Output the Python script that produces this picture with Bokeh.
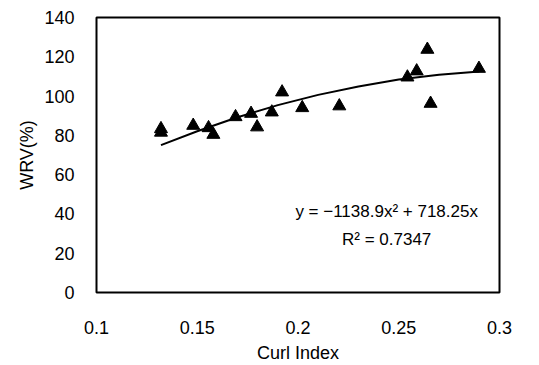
from bokeh.plotting import figure
from bokeh.models import FixedTicker, Label, Range1d
from bokeh.embed import file_html
from bokeh.resources import INLINE

# Data
curl_index = [0.132, 0.132, 0.148, 0.1556, 0.158, 0.169, 0.1767, 0.1797, 0.187,
              0.1921, 0.2021, 0.2205, 0.2543, 0.2589, 0.2642, 0.2658, 0.2898]
wrv = [83.3, 81.5, 85.0, 83.8, 80.4, 89.4, 91.1, 84.2, 91.8,
       102.0, 94.0, 94.9, 109.6, 112.7, 123.7, 96.2, 114.0]

trend_x = [0.132, 0.15, 0.17, 0.19, 0.21, 0.23, 0.25, 0.27, 0.29]
trend_y = [75.0, 82.1, 89.2, 95.4, 100.6, 104.9, 108.4, 110.9, 112.5]

x_ticks = [0.1, 0.15, 0.2, 0.25, 0.3]
x_tick_labels = ["0.1", "0.15", "0.2", "0.25", "0.3"]
y_ticks = [0, 20, 40, 60, 80, 100, 120, 140]

equation_text = "y = \u22121138.9x\u00b2 + 718.25x"
r2_text = "R\u00b2 = 0.7347"

FONT = "Liberation Sans"

p = figure(width=539, height=365, output_backend="svg", toolbar_location=None,
           x_range=Range1d(0.1, 0.3), y_range=Range1d(0, 140),
           min_border_left=96, min_border_right=40, min_border_top=17,
           min_border_bottom=73)

p.background_fill_color = "white"
p.border_fill_color = "white"
p.outline_line_color = "black"
p.outline_line_width = 2
p.grid.visible = False

p.line(trend_x, trend_y, line_color="black", line_width=2)
p.scatter(curl_index, wrv, marker="triangle", size=13, fill_color="black",
          line_color="black")

for ax in (p.xaxis[0], p.yaxis[0]):
    ax.axis_line_color = None
    ax.major_tick_line_color = None
    ax.minor_tick_line_color = None
    ax.major_label_text_font = FONT
    ax.major_label_text_font_size = "18px"
    ax.major_label_text_color = "black"
    ax.axis_label_text_font = FONT
    ax.axis_label_text_font_size = "18px"
    ax.axis_label_text_font_style = "normal"
    ax.axis_label_text_color = "black"

p.xaxis.ticker = FixedTicker(ticks=x_ticks)
p.xaxis.major_label_overrides = {t: s for t, s in zip(x_ticks, x_tick_labels)}
p.xaxis.major_label_standoff = 22
p.xaxis.axis_label = "Curl Index"
p.xaxis.axis_label_standoff = 6

p.yaxis.ticker = FixedTicker(ticks=y_ticks)
p.yaxis.major_label_standoff = 16
p.yaxis.axis_label = "WRV(%)"
p.yaxis.axis_label_standoff = 4

p.add_layout(Label(x=0.244, y=41.2, text=equation_text, text_align="center",
                   text_baseline="middle", text_font=FONT, text_font_size="17px",
                   text_color="black"))
p.add_layout(Label(x=0.244, y=27.0, text=r2_text, text_align="center",
                   text_baseline="middle", text_font=FONT, text_font_size="17px",
                   text_color="black"))

open("out.html", "w").write(file_html(p, INLINE))
